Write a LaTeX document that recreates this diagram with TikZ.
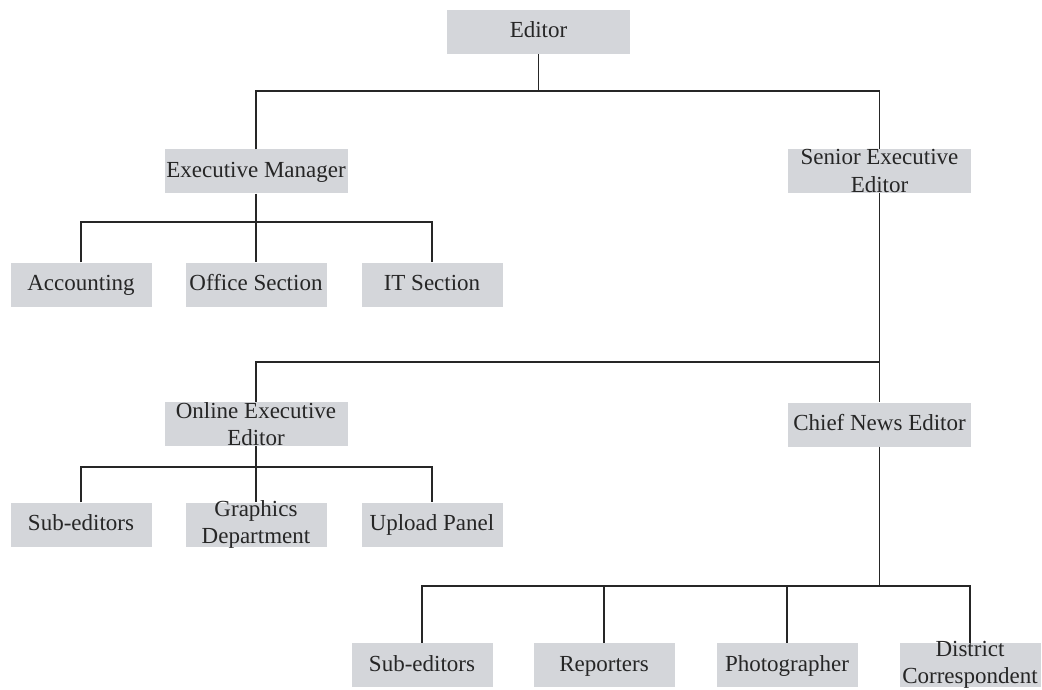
\documentclass[tikz,border=0pt]{standalone}
\usepackage{fontspec}
\setmainfont{Liberation Serif}
\definecolor{boxgray}{RGB}{212,214,218}
\begin{document}
\begin{tikzpicture}[x=1pt, y=-1pt,
    box/.style={fill=boxgray, text=black!85, inner xsep=0pt, minimum height=44,
      text height=17pt, text depth=5pt, font=\fontsize{23}{27.6}\selectfont},
    bigbox/.style={box, minimum width=183},
    smallbox/.style={box, minimum width=141},
    twoline/.style={align=center, text height=, text depth=, inner ysep=-3.5pt},
    link/.style={line width=1.4pt, draw=black!85}]
    % Frame of the picture
    \path[use as bounding box] (0,0) rectangle (1042,690);

    % Top level
    \node[bigbox] (editor) at (538.5,32) {Editor};

    % Second level
    \node[bigbox] (execmgr) at (256,171.5) {Executive Manager};
    \node[bigbox, twoline] (senior) at (879.5,171) {Senior Executive\\Editor};

    % Offices under the executive manager
    \node[smallbox] (account) at (81,284.5) {Accounting};
    \node[smallbox] (office) at (256,284.5) {Office Section};
    \node[smallbox] (itsec) at (432,284.5) {IT Section};

    % Third level
    \node[bigbox, twoline] (online) at (256,424) {Online Executive\\Editor};
    \node[bigbox] (chief) at (879.5,424.5) {Chief News Editor};

    % Desks under the online editor
    \node[smallbox] (subed) at (81,524.5) {Sub-editors};
    \node[smallbox, twoline] (graphics) at (256,524.5) {Graphics\\Department};
    \node[smallbox] (upload) at (432,524.5) {Upload Panel};

    % Desks under the chief news editor
    \node[smallbox] (subnews) at (422,665) {Sub-editors};
    \node[smallbox] (reporter) at (604,665) {Reporters};
    \node[smallbox] (photo) at (787,665) {Photographer};
    \node[smallbox, twoline] (district) at (970,665) {District\\Correspondent};

    % Bus lines
    \coordinate (topbus) at (538.5,91);
    \coordinate (embus) at (256,222);
    \coordinate (srbus) at (879.5,362);
    \coordinate (olbus) at (256,467);
    \coordinate (cnbus) at (879.5,586);

    % Editor to the two managers
    \draw[link] (editor) -- (topbus);
    \draw[link] (execmgr) |- (topbus) -| (senior);

    % Executive manager to the offices
    \draw[link] (execmgr) -- (office);
    \draw[link] (account) |- (embus) -| (itsec);

    % Senior executive editor to the editors below
    \draw[link] (senior) -- (chief);
    \draw[link] (online) |- (srbus);

    % Online executive editor to its desks
    \draw[link] (online) -- (graphics);
    \draw[link] (subed) |- (olbus) -| (upload);

    % Chief news editor to its desks
    \draw[link] (chief) -- (cnbus);
    \draw[link] (subnews) |- (cnbus) -| (district);
    \draw[link] (reporter) -- (reporter |- cnbus);
    \draw[link] (photo) -- (photo |- cnbus);
\end{tikzpicture}
\end{document}
